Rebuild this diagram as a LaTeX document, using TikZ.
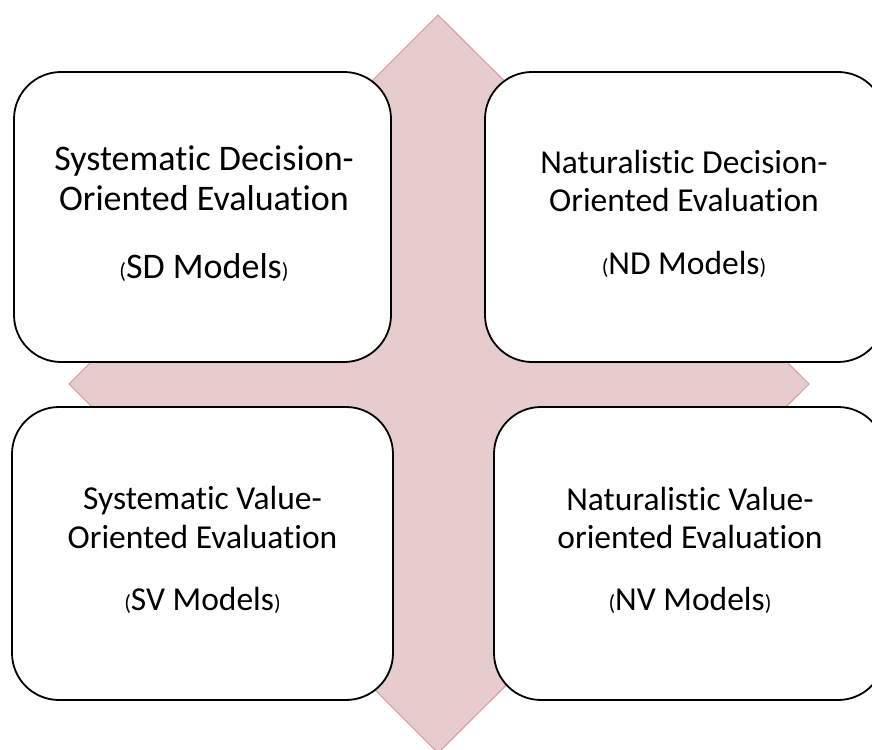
\documentclass[tikz,border=0pt]{standalone}
\usepackage{fontspec}
\setmainfont{Carlito}[Ligatures={NoCommon,NoRare,NoDiscretionary}]
\definecolor{diafill}{RGB}{230,204,205}
\definecolor{dialine}{RGB}{216,150,150}
\newcommand{\smallparen}[1]{{\fontsize{22}{26}\selectfont #1}}
\begin{document}
\begin{tikzpicture}[x=1pt,y=-1pt,
  box/.style={draw=black,line width=1.8pt,fill=white,rounded corners=47pt,inner sep=0pt},
  big/.style={font=\fontsize{36}{42}\selectfont,anchor=base,inner sep=0pt},
  txt/.style={font=\fontsize{33.5}{40}\selectfont,anchor=base,inner sep=0pt}]
\useasboundingbox (0,0) rectangle (872,749);
\clip (0,0) rectangle (872,749);
\fill[white] (0,0) rectangle (872,749);
\filldraw[fill=diafill,draw=dialine,line width=1pt] (438,15) -- (809,384) -- (438,753) -- (69,384) -- cycle;
% boxes
\node[box,minimum width=377pt,minimum height=290pt] (sd) at (202.5,217) {};
\node[box,minimum width=400pt,minimum height=290pt] (nd) at (685,217) {};
\node[box,minimum width=381pt,minimum height=293pt] (sv) at (202.5,553.5) {};
\node[box,minimum width=391pt,minimum height=293pt] (nv) at (689.5,553.5) {};
% texts
\node[big] (sd1) at (204,170) {Systematic Decision-};
\node[big] (sd2) at (204,210) {Oriented Evaluation};
\node[big] (sd3) at (204,278) {\smallparen{(}SD Models\smallparen{)}};
\node[txt] (nd1) at (684,173) {Naturalistic Decision-};
\node[txt] (nd2) at (684,211) {Oriented Evaluation};
\node[txt] (nd3) at (684,274) {\smallparen{(}ND Models\smallparen{)}};
\node[txt] (sv1) at (202.5,509) {Systematic Value-};
\node[txt] (sv2) at (202.5,548) {Oriented Evaluation};
\node[txt] (sv3) at (202.5,610) {\smallparen{(}SV Models\smallparen{)}};
\node[txt] (nv1) at (690,510) {Naturalistic Value-};
\node[txt] (nv2) at (690,548) {oriented Evaluation};
\node[txt] (nv3) at (690,610) {\smallparen{(}NV Models\smallparen{)}};
\end{tikzpicture}
\end{document}
